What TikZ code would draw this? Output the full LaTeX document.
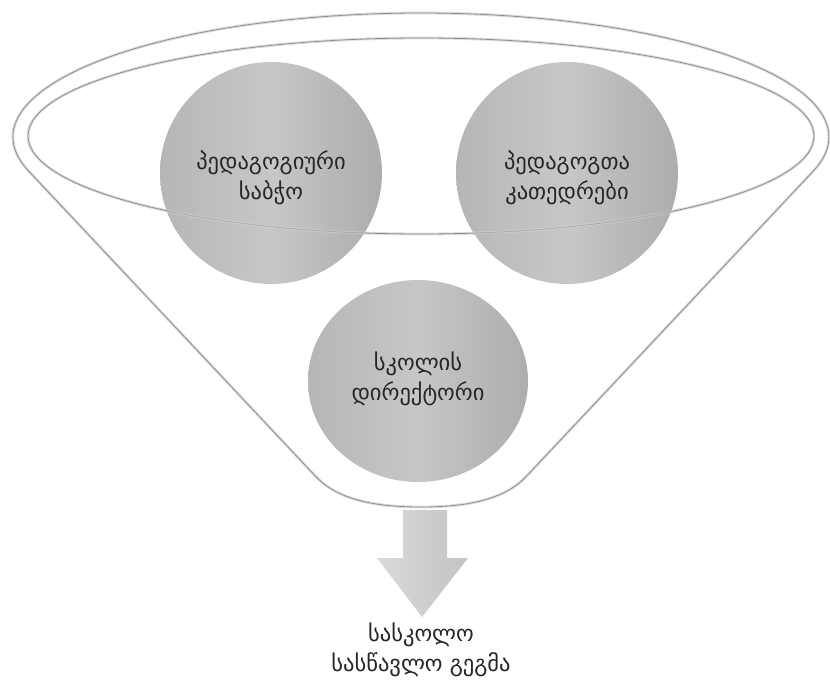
\documentclass[tikz,border=0pt]{standalone}
\usepackage{fontspec}
\newfontfamily\geo{DejaVu Sans}
\usetikzlibrary{shapes.geometric}
\definecolor{ink}{HTML}{262626}
\definecolor{rimdark}{HTML}{8E8F91}
\definecolor{rimsoft}{HTML}{DCDDDE}
\definecolor{ballL}{HTML}{B2B3B5}
\definecolor{ballM}{HTML}{C3C4C6}
\definecolor{ballR}{HTML}{A8A9AB}
\definecolor{arrowL}{HTML}{D9DADC}
\definecolor{arrowR}{HTML}{C2C3C5}
\tikzset{
  rimhalo/.style={draw=rimsoft, line width=2.8pt, line join=round},
  rimline/.style={draw=rimdark, line width=0.8pt, line join=round},
  ball/.style={inner sep=0pt, left color=ballL, right color=ballR, middle color=ballM, fill opacity=0.95},
  balltext/.style={align=center, text=ink, font=\geo\fontsize{22.5}{30}\selectfont, inner sep=0pt},
}
\begin{document}
\begin{tikzpicture}[x=1pt, y=-1pt]
  \fill[white] (0,0) rectangle (830,680);
  \useasboundingbox (0,0) rectangle (830,680);

  % funnel silhouette: outer rim arc, sloping sides and rounded neck
  \coordinate (rimL) at (28.6,171);
  \coordinate (neckL) at (315.3,476);
  \coordinate (neckR) at (526.7,476);
  \coordinate (neckB) at (421,507);
  \foreach \sty in {rimhalo, rimline}{
    \draw[\sty] (rimL) arc[start angle=164.1, end angle=375.9, x radius=408, y radius=124]
      -- (neckR) .. controls (508,496) and (477,507) .. (neckB)
      .. controls (365,507) and (334,496) .. (neckL) -- cycle;
    \draw[\sty] (421,136) ellipse [x radius=393, y radius=98];
  }

  % the three bodies in the funnel
  \node[ball, circle, minimum size=222pt] (b1) at (271,173) {};
  \node[ball, circle, minimum size=222pt] (b2) at (567,173) {};
  \node[ball, ellipse, minimum width=220pt, minimum height=202pt] (b3) at (418,381) {};

  % front of the inner rim seen through the upper bodies
  \begin{scope}
    \clip (b1.center) circle[radius=111] (b2.center) circle[radius=111];
    \draw[rimhalo, opacity=0.45] (421,136) ellipse [x radius=393, y radius=98];
    \draw[rimline, opacity=0.55] (421,136) ellipse [x radius=393, y radius=98];
  \end{scope}

  \node[balltext] (t1) at ([yshift=-5pt]b1.center) {პედაგოგიური\\საბჭო};
  \node[balltext] (t2) at ([yshift=-5pt]b2.center) {პედაგოგთა\\კათედრები};
  \node[balltext] (t3) at ([yshift=2pt]b3.center) {სკოლის\\დირექტორი};

  % outlet arrow
  \shade[left color=arrowL, right color=arrowR]
    (403,510) -- (447,510) -- (447,558) -- (468,558) -- (422,617)
    -- (377,558) -- (403,558) -- cycle;

  \node[balltext] (plan) at (421,650) {სასკოლო\\სასწავლო გეგმა};
\end{tikzpicture}
\end{document}
